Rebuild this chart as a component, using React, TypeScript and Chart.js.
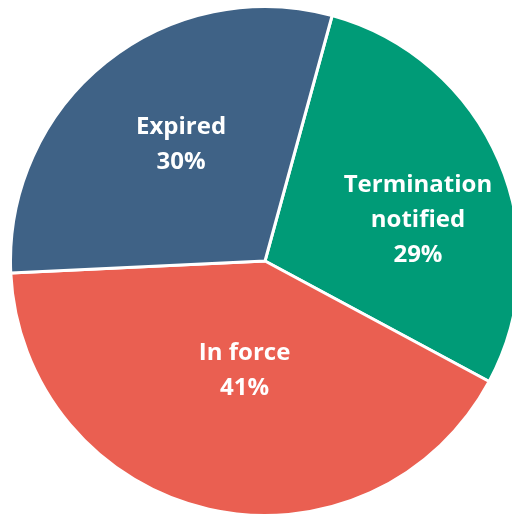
import React, { useEffect, useRef } from "react";
import { Chart, registerables } from "chart.js";

Chart.register(...registerables);

const categories = ["Termination notified", "In force", "Expired"];
const labelLines = [["Termination", "notified"], ["In force"], ["Expired"]];
const values = [28.6, 41.4, 30.0];
const colors = ["#009B77", "#EA5F51", "#3F6286"];

// label placement relative to slice: [radius fraction, angle shift in degrees]
const labelPlacement = [
  [0.624, 7.6],
  [0.432, -2.1],
  [0.568, 3.2],
];

const labelPlugin = {
  id: "pieLabels",
  afterDatasetsDraw(chart: any) {
    const ctx = chart.ctx;
    const meta = chart.getDatasetMeta(0);
    const total = values.reduce((a, b) => a + b, 0);
    ctx.save();
    ctx.fillStyle = "#ffffff";
    ctx.font = "bold 24px 'Open Sans'";
    ctx.textAlign = "center";
    ctx.textBaseline = "alphabetic";
    meta.data.forEach((arc: any, i: number) => {
      const { x, y, startAngle, endAngle, outerRadius } = arc.getProps(
        ["x", "y", "startAngle", "endAngle", "outerRadius"],
        true
      );
      const [rf, shift] = labelPlacement[i];
      const mid = (startAngle + endAngle) / 2 + (shift * Math.PI) / 180;
      const r = outerRadius * rf;
      const cx = x + Math.cos(mid) * r;
      const cy = y + Math.sin(mid) * r;
      const pct = Math.round((values[i] / total) * 100) + "%";
      const lines = [...labelLines[i], pct];
      const L = 35;
      const cap = 17;
      const first = cy - ((lines.length - 1) * L) / 2 + cap / 2;
      lines.forEach((t, k) => ctx.fillText(t, cx, first + k * L));
    });
    ctx.restore();
  },
};

export default function App() {
  const ref = useRef<HTMLCanvasElement>(null);
  useEffect(() => {
    if (!ref.current) return;
    const chart = new Chart(ref.current, {
      type: "pie",
      data: {
        labels: categories,
        datasets: [
          {
            data: values,
            backgroundColor: colors,
            borderColor: "#ffffff",
            borderWidth: 3,
          },
        ],
      },
      options: {
        animation: false,
        responsive: false,
        rotation: 15.3,
        layout: { padding: { left: 9, top: 5, right: 19, bottom: 13 } },
        plugins: {
          legend: { display: false },
          tooltip: { enabled: false },
        },
      },
      plugins: [labelPlugin],
    });
    return () => chart.destroy();
  }, []);
  return (
    <div
      style={{
        position: "fixed",
        left: 0,
        top: 0,
        width: 512,
        height: 516,
        overflow: "hidden",
        background: "#ffffff",
      }}
    >
      <canvas ref={ref} width={540} height={530} style={{ width: 540, height: 530 }} />
    </div>
  );
}
